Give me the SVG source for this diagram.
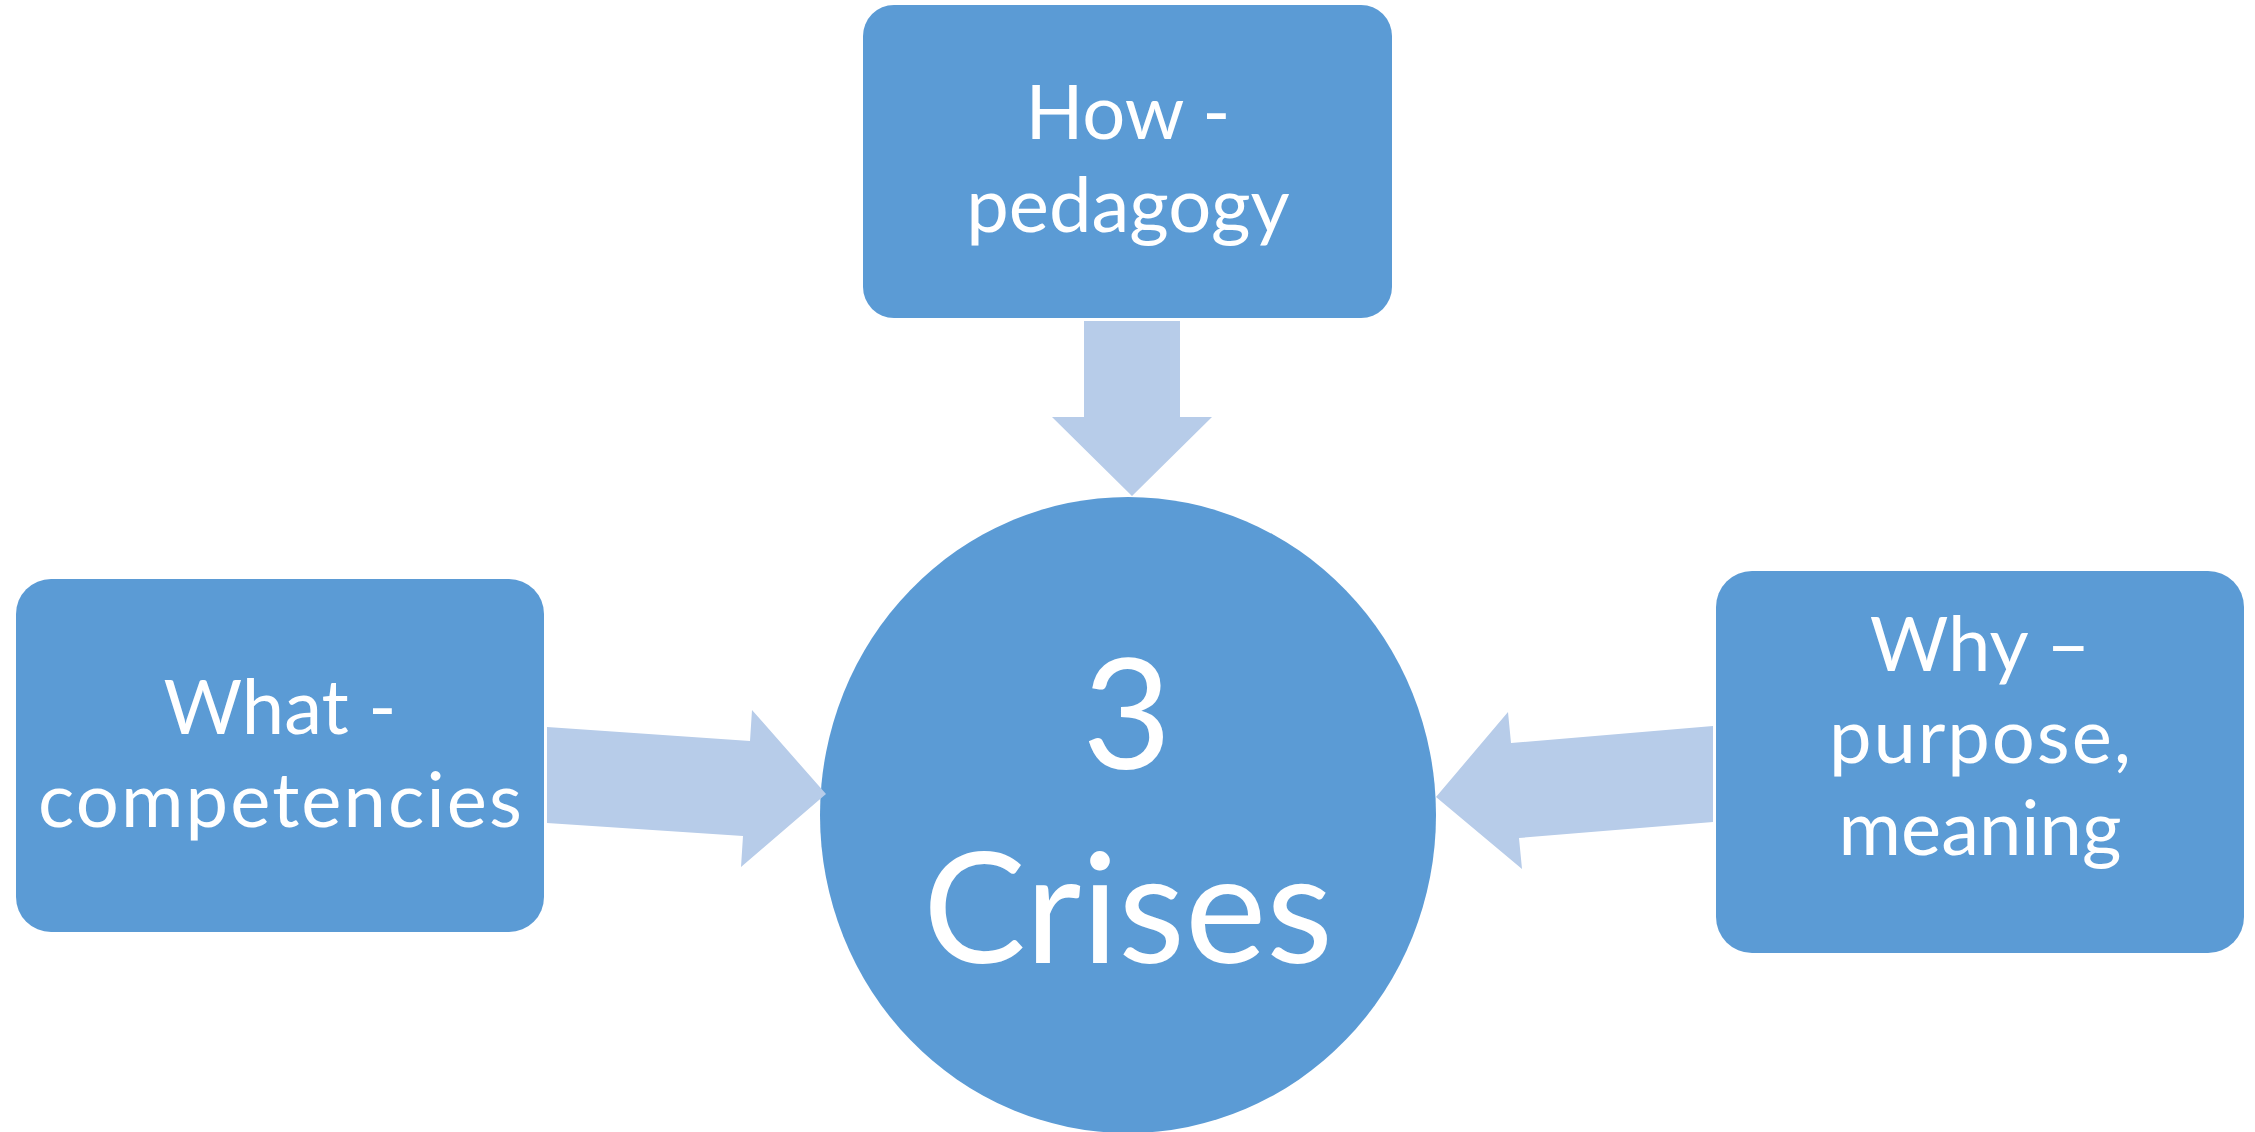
<svg xmlns="http://www.w3.org/2000/svg" width="2255" height="1132" viewBox="0 0 2255 1132">
  <style>
    .node { fill: #5B9BD5; }
    .arrow { fill: #B7CCE9; }
    .label { fill: #FFFFFF; font-family: Lato, "Liberation Sans", sans-serif; text-anchor: middle; }
    .small { font-size: 76px; }
    .big { font-size: 154px; }
  </style>
  <rect width="2255" height="1132" fill="#FFFFFF"/>

  <!-- central ellipse -->
  <g id="node-crises">
    <ellipse class="node" cx="1128" cy="815" rx="308" ry="318"/>
    <text class="label big" x="1127" y="769">3</text>
    <text class="label big" x="1128" y="963">Crises</text>
  </g>

  <!-- block arrows pointing to the centre -->
  <g id="connectors">
    <polygon class="arrow" points="1084,321 1180,321 1180,417 1212,417 1132,496 1052,417 1084,417"/>
    <polygon class="arrow" points="547,727 750,741 752,710 826,794 741,867 743,836 547,823"/>
    <polygon class="arrow" points="1713,726 1511,743 1508,712 1436,797 1522,869 1519,838 1713,822"/>
  </g>

  <g id="node-how">
    <rect class="node" x="863" y="5" width="529" height="313" rx="31" ry="31"/>
    <text class="label small" x="1128" y="139">How -</text>
    <text class="label small" x="1128" y="232">pedagogy</text>
  </g>

  <g id="node-what">
    <rect class="node" x="16" y="579" width="528" height="353" rx="35" ry="35"/>
    <text class="label small" x="280" y="734">What -</text>
    <text class="label small" x="280" y="827" textLength="484" lengthAdjust="spacing">competencies</text>
  </g>

  <g id="node-why">
    <rect class="node" x="1716" y="571" width="528" height="382" rx="36" ry="36"/>
    <text class="label small" x="1980" y="671">Why –</text>
    <text class="label small" x="1980" y="763" textLength="302" lengthAdjust="spacing">purpose,</text>
    <text class="label small" x="1980" y="855">meaning</text>
  </g>
</svg>
